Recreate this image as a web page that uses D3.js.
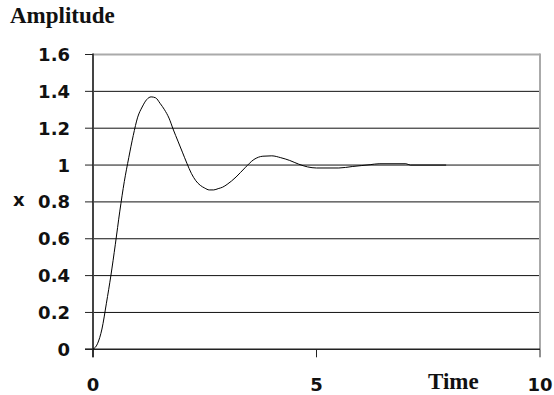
<!DOCTYPE html>
<html>
<head>
<meta charset="utf-8">
<script src="https://cdn.jsdelivr.net/npm/d3@7"></script>
<style>
  body { margin: 0; background: #fff; }
  .tick-label { font-family: "DejaVu Sans", sans-serif; font-weight: bold; font-size: 18px; fill: #111; }
  .title { font-family: "Liberation Serif", "Times New Roman", serif; font-weight: bold; font-size: 23px; fill: #111; }
</style>
</head>
<body>
<div id="chart"></div>
<script>
var width = 554, height = 395;

// step response: time vs amplitude
var times = [0, 0.1, 0.2, 0.3, 0.4, 0.5, 0.6, 0.7, 0.8, 0.9, 1.0, 1.1, 1.2, 1.3, 1.4, 1.5, 1.6, 1.7, 1.8, 1.9,
  2.0, 2.1, 2.2, 2.3, 2.4, 2.5, 2.6, 2.7, 2.8, 2.9, 3.0, 3.2, 3.4, 3.6, 3.8, 4.0, 4.2, 4.4, 4.6, 4.8,
  5.0, 5.5, 5.8, 6.0, 6.2, 6.4, 7.0, 7.1, 7.9];
var amplitude = [0, 0.03, 0.11, 0.25, 0.40, 0.57, 0.75, 0.91, 1.04, 1.16, 1.26, 1.315, 1.355, 1.37, 1.365, 1.335, 1.30, 1.255, 1.19, 1.13,
  1.07, 1.01, 0.955, 0.915, 0.89, 0.875, 0.865, 0.865, 0.872, 0.88, 0.895, 0.935, 0.985, 1.03, 1.048, 1.05, 1.04, 1.025, 1.005, 0.99,
  0.984, 0.984, 0.992, 0.997, 1.002, 1.007, 1.007, 1.0, 1.0];

var yTicks = [0, 0.2, 0.4, 0.6, 0.8, 1, 1.2, 1.4, 1.6];
var xTicks = [0, 5, 10];

var svg = d3.select("#chart").append("svg")
  .attr("width", width)
  .attr("height", height);

var x = d3.scaleLinear().domain([0, 10]).range([93, 540]);
var y = d3.scaleLinear().domain([0, 1.6]).range([349.3, 54.5]);

// gridlines
svg.selectAll(".grid")
  .data(yTicks.filter(function(d) { return d > 0; }))
  .enter().append("line")
    .attr("x1", x(0)).attr("x2", x(10))
    .attr("y1", function(d) { return y(d); })
    .attr("y2", function(d) { return y(d); })
    .attr("stroke", function(d) { return d === 1.6 ? "#aaa" : "#111"; })
    .attr("stroke-width", function(d) { return d === 1.6 ? 2 : 1; });

// right border
svg.append("line")
  .attr("x1", x(10)).attr("x2", x(10))
  .attr("y1", y(1.6) - 1).attr("y2", y(0))
  .attr("stroke", "#aaa").attr("stroke-width", 2);

// y axis
svg.append("line")
  .attr("x1", x(0)).attr("x2", x(0))
  .attr("y1", y(1.6) - 1).attr("y2", y(0) + 8)
  .attr("stroke", "#444").attr("stroke-width", 2);

svg.selectAll(".ytick")
  .data(yTicks)
  .enter().append("line")
    .attr("x1", x(0) - 8).attr("x2", x(0))
    .attr("y1", function(d) { return y(d); })
    .attr("y2", function(d) { return y(d); })
    .attr("stroke", "#222").attr("stroke-width", 1);

svg.selectAll(".ylabel")
  .data(yTicks)
  .enter().append("text")
    .attr("class", "tick-label")
    .attr("x", 70)
    .attr("y", function(d) { return y(d); })
    .attr("dy", "0.36em")
    .attr("text-anchor", "end")
    .text(function(d) { return d; });

// x axis
svg.append("line")
  .attr("x1", x(0) - 8).attr("x2", x(10))
  .attr("y1", y(0)).attr("y2", y(0))
  .attr("stroke", "#222").attr("stroke-width", 1.5);

svg.selectAll(".xtick")
  .data(xTicks)
  .enter().append("line")
    .attr("x1", function(d) { return x(d); })
    .attr("x2", function(d) { return x(d); })
    .attr("y1", y(0)).attr("y2", y(0) + 8)
    .attr("stroke", "#222").attr("stroke-width", 1);

svg.selectAll(".xlabel")
  .data(xTicks)
  .enter().append("text")
    .attr("class", "tick-label")
    .attr("x", function(d) { return x(d); })
    .attr("y", 391)
    .attr("text-anchor", "middle")
    .text(function(d) { return d; });

// curve
var line = d3.line()
  .x(function(d, i) { return x(times[i]); })
  .y(function(d) { return y(d); })
  .curve(d3.curveMonotoneX);

svg.append("path")
  .datum(amplitude)
  .attr("fill", "none")
  .attr("stroke", "#000")
  .attr("stroke-width", 1)
  .attr("d", line);

// titles
svg.append("text").attr("class", "title").attr("x", 10).attr("y", 23).text("Amplitude");
svg.append("text").attr("class", "title").attr("x", 428).attr("y", 389).text("Time");
svg.append("text").attr("class", "tick-label").attr("x", 13).attr("y", y(0.8)).attr("dy", "0.2em").text("x");
</script>
</body>
</html>
